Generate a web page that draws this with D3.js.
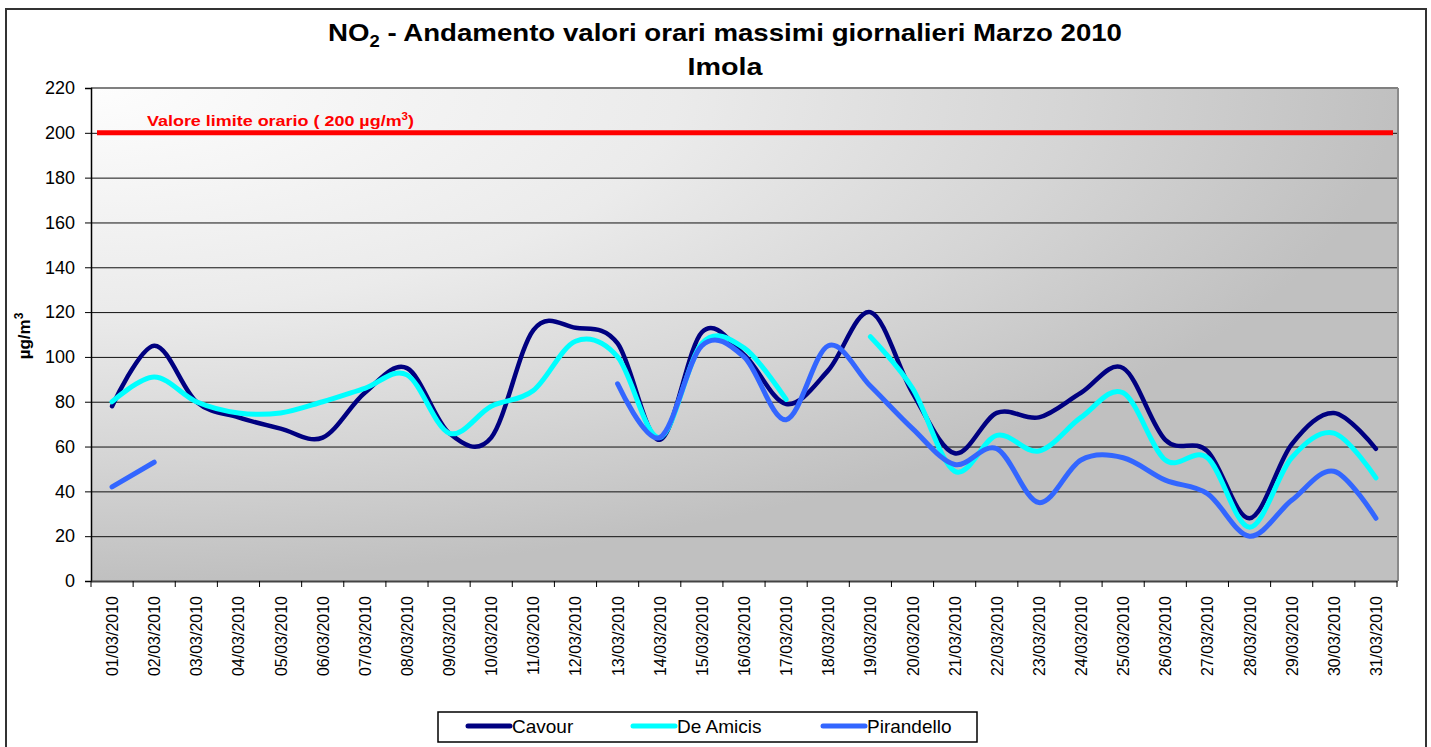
<!DOCTYPE html>
<html>
<head>
<meta charset="utf-8">
<script src="https://cdn.jsdelivr.net/npm/d3@7"></script>
<style>
  html, body { margin: 0; padding: 0; background: #ffffff; }
  svg { display: block; font-family: "Liberation Sans", Arial, sans-serif; }
</style>
</head>
<body>
<svg id="chart" width="1431" height="747"></svg>
<script>
const days = ["01/03/2010","02/03/2010","03/03/2010","04/03/2010","05/03/2010","06/03/2010","07/03/2010","08/03/2010","09/03/2010","10/03/2010","11/03/2010","12/03/2010","13/03/2010","14/03/2010","15/03/2010","16/03/2010","17/03/2010","18/03/2010","19/03/2010","20/03/2010","21/03/2010","22/03/2010","23/03/2010","24/03/2010","25/03/2010","26/03/2010","27/03/2010","28/03/2010","29/03/2010","30/03/2010","31/03/2010"];
const cavour = [78,105,80,73,68,64,84,95,66,64,112,113,106,63,111,101,79,94,120,84,57,75,73,84,95,63,58,28,61,75,59];
const deAmicis = [80,91,80,75,75,80,86,92,66,78,85,107,100,64,106,104,81,null,109,86,49,65,58,73,84,54,55,24,55,66,46];
const pirandello = [42,53,null,null,null,null,null,null,null,null,null,null,88,64,105,100,72,105,87,68,52,59,35,54,55,45,39,20,36,49,28];
const seriesNames = ["Cavour","De Amicis","Pirandello"];
const seriesColors = ["#000080","#00FFFF","#3366FF"];
const yTicks = [0,20,40,60,80,100,120,140,160,180,200,220];
const limitValue = 200;

const svg = d3.select("#chart");
const L = 91, R = 1397, T = 88, B = 581;

// outer border
svg.append("rect").attr("x",6).attr("y",9).attr("width",1420).attr("height",760)
  .attr("fill","#fff").attr("stroke","#333").attr("stroke-width",2);

const defs = svg.append("defs");
const grad = defs.append("radialGradient").attr("id","bg")
  .attr("cx",0).attr("cy",0).attr("r",1).attr("fx",0).attr("fy",0);
[[0,"#fdfdfd"],[0.45,"#ebebeb"],[0.75,"#d5d5d5"],[1,"#c0c0c0"]].forEach(s=>
  grad.append("stop").attr("offset",s[0]).attr("stop-color",s[1]));

svg.append("rect").attr("x",L).attr("y",T).attr("width",R-L).attr("height",B-T).attr("fill","url(#bg)");

const x = d3.scaleBand().domain(days).range([L,R]).padding(0);
const y = d3.scaleLinear().domain([0,220]).range([B,T]);
const cx = d => x(d) + x.bandwidth()/2;

// gridlines
const grid = svg.append("g").attr("transform",`translate(${L},0)`)
  .call(d3.axisLeft(y).tickValues(yTicks.filter(v=>v>0 && v<220)).tickSize(-(R-L)).tickFormat(""));
grid.select(".domain").remove();
grid.selectAll("line").attr("stroke","#111").attr("stroke-width",1);

// plot border top/right
svg.append("line").attr("x1",L).attr("x2",R+1).attr("y1",T).attr("y2",T).attr("stroke","#808080").attr("stroke-width",2);
svg.append("line").attr("x1",R+1).attr("x2",R+1).attr("y1",T).attr("y2",B).attr("stroke","#8a8a8a").attr("stroke-width",2);

// y axis
const yAxis = svg.append("g").attr("transform",`translate(${L},0)`)
  .call(d3.axisLeft(y).tickValues(yTicks).tickSize(6).tickPadding(10));
yAxis.select(".domain").attr("stroke","#000").attr("stroke-width",1.5);
yAxis.selectAll("line").attr("stroke","#000");
yAxis.selectAll("text").attr("font-size",18).attr("fill","#000").attr("font-family","Liberation Sans, Arial, sans-serif");

// x axis
const xAxis = svg.append("g").attr("transform",`translate(0,${B})`)
  .call(d3.axisBottom(x).tickSize(0).tickFormat(""));
xAxis.select(".domain").attr("stroke","#444").attr("stroke-width",2);
svg.append("g").selectAll("line").data(days.concat(["end"])).join("line")
  .attr("x1",(d,i)=> i<days.length ? x(d) : R).attr("x2",(d,i)=> i<days.length ? x(d) : R)
  .attr("y1",B).attr("y2",B+6).attr("stroke","#000").attr("stroke-width",1);
svg.append("g").selectAll("text").data(days).join("text")
  .attr("transform",d=>`translate(${cx(d)+6},${B+15}) rotate(-90)`)
  .attr("text-anchor","end").attr("font-size",16).attr("fill","#000").text(d=>d);

// limit line
svg.append("line").attr("x1",L+6).attr("x2",R-4).attr("y1",y(limitValue)).attr("y2",y(limitValue))
  .attr("stroke","#ff0000").attr("stroke-width",5);
const lt = svg.append("text").attr("x",147).attr("y",126).attr("fill","#ff0000")
  .attr("font-size",15.5).attr("font-weight","bold")
  .attr("textLength",267).attr("lengthAdjust","spacingAndGlyphs");
lt.append("tspan").text("Valore limite orario ( 200 µg/m");
lt.append("tspan").attr("dy",-6).attr("font-size",10).text("3");
lt.append("tspan").attr("dy",6).text(")");

// series
const line = d3.line().defined(d=>d.v!=null).x(d=>cx(d.d)).y(d=>y(d.v)).curve(d3.curveCardinal.tension(0));
[cavour,deAmicis,pirandello].forEach((s,i)=>{
  const pts = days.map((d,j)=>({d:d,v:s[j]}));
  svg.append("path").datum(pts).attr("d",line).attr("fill","none")
    .attr("stroke",seriesColors[i]).attr("stroke-width",i===0?4.5:5)
    .attr("stroke-linecap","round").attr("stroke-linejoin","round");
});

// title
const t1 = svg.append("text").attr("x",725).attr("y",41).attr("text-anchor","middle")
  .attr("font-size",24).attr("font-weight","bold").attr("fill","#000")
  .attr("textLength",794).attr("lengthAdjust","spacingAndGlyphs");
t1.append("tspan").text("NO");
t1.append("tspan").attr("dy",6).attr("font-size",16).text("2");
t1.append("tspan").attr("dy",-6).text(" - Andamento valori orari massimi giornalieri Marzo 2010");
svg.append("text").attr("x",725).attr("y",75).attr("text-anchor","middle")
  .attr("font-size",24).attr("font-weight","bold").attr("fill","#000")
  .attr("textLength",75).attr("lengthAdjust","spacingAndGlyphs").text("Imola");

// y title
const yt = svg.append("text").attr("transform","translate(30,336) rotate(-90)").attr("text-anchor","middle")
  .attr("font-size",17).attr("font-weight","bold").attr("fill","#000");
yt.append("tspan").text("µg/m");
yt.append("tspan").attr("dy",-7).attr("font-size",12).text("3");

// legend
svg.append("rect").attr("x",438).attr("y",712).attr("width",539).attr("height",30)
  .attr("fill","#fff").attr("stroke","#000").attr("stroke-width",1.5);
const legX = [468,633,823];
seriesNames.forEach((n,i)=>{
  svg.append("line").attr("x1",legX[i]).attr("x2",legX[i]+42).attr("y1",726).attr("y2",726)
    .attr("stroke",seriesColors[i]).attr("stroke-width",5).attr("stroke-linecap","round");
  svg.append("text").attr("x",legX[i]+44).attr("y",733).attr("font-size",19).attr("fill","#000").text(n);
});
</script>
</body>
</html>
